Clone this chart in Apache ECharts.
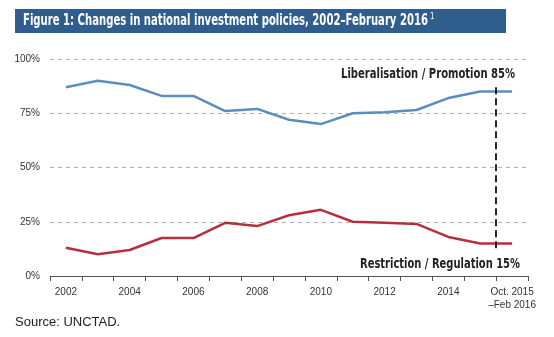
<!DOCTYPE html>
<html>
<head>
<meta charset="utf-8">
<script src="https://cdn.jsdelivr.net/npm/echarts@6/dist/echarts.min.js"></script>
<style>
html,body{margin:0;padding:0;background:#fff;}
#c{width:554px;height:337px;}
</style>
</head>
<body>
<div id="c"></div>
<script>
const categories = ['2002','2003','2004','2005','2006','2007','2008','2009','2010','2011','2012','2013','2014','2015','Oct. 2015\n\u2013Feb 2016'];
const liberalisation = [87, 90, 88, 83, 83, 76, 77, 72, 70, 75, 75.5, 76.5, 82, 85, 85];
const restriction = [13, 10, 12, 17.5, 17.5, 24.5, 23, 28, 30.5, 25, 24.5, 24, 18, 15, 15];
const yTicks = [0, 25, 50, 75, 100];
const cutoffBoundary = 14;      // boundary between 2015 and Oct.2015–Feb 2016 category
const cutoffRange = [87, 11];   // vertical extent of dashed marker in % units

const condensed = "'DejaVu Sans Condensed','Liberation Sans Narrow',sans-serif";
const plain = "'Liberation Sans',Arial,sans-serif";

const mctx = document.createElement('canvas').getContext('2d');
function fitScale(text, font, target) {
  mctx.font = font;
  const w = mctx.measureText(text).width;
  return Math.min(1, target / w);
}

// compressed text element: text drawn from (x,y) left-top, squeezed to width
function squeezed(text, font, x, y, width, fill) {
  return {
    type: 'text', x: x, y: y,
    scaleX: fitScale(text, font, width), originX: 0, originY: 0,
    style: {text: text, fill: fill, font: font, textVerticalAlign: 'top'}
  };
}

const titleText = 'Figure 1: Changes in national investment policies, 2002\u2013February 2016';
const libText = 'Liberalisation / Promotion 85%';
const resText = 'Restriction / Regulation 15%';
const titleFont = "bold 16px " + condensed;
const annFont = "bold 13.5px " + condensed;

const chart = echarts.init(document.getElementById('c'), null, {renderer:'canvas'});

chart.setOption({
  animation: false,
  backgroundColor: '#ffffff',
  grid: {left: 50, right: 26, top: 59, bottom: 61},
  xAxis: [{
    type: 'category',
    data: categories,
    boundaryGap: true,
    axisLine: {lineStyle: {color: '#555', width: 1.2}},
    axisTick: {show: true, inside: false, length: 5, lineStyle: {color: '#555'}, interval: 0},
    axisLabel: {interval: 1, margin: 10, color: '#333', fontSize: 10, fontFamily: plain, lineHeight: 13},
    splitLine: {show: false}
  }, {
    type: 'value',
    min: 0, max: categories.length,
    show: false
  }],
  yAxis: {
    type: 'value',
    min: yTicks[0], max: yTicks[yTicks.length-1], interval: 25,
    axisLine: {show: false},
    axisTick: {show: false},
    axisLabel: {formatter: '{value}%', margin: 10, color: '#333', fontSize: 10, fontFamily: plain},
    splitLine: {lineStyle: {color: '#b0b0b0', type: [4, 4], width: 1}}
  },
  series: [{
    name: 'Liberalisation / Promotion',
    type: 'line',
    data: liberalisation,
    symbol: 'none',
    lineStyle: {color: '#5b8dbd', width: 2.5},
    z: 3
  }, {
    name: 'Restriction / Regulation',
    type: 'line',
    data: restriction,
    symbol: 'none',
    lineStyle: {color: '#b5303e', width: 2.5},
    z: 3
  }, {
    type: 'line',
    xAxisIndex: 1,
    data: [],
    markLine: {
      silent: true,
      symbol: 'none',
      label: {show: false},
      lineStyle: {color: '#111', type: [7, 4], width: 1.8},
      data: [[{coord: [cutoffBoundary, cutoffRange[0]]}, {coord: [cutoffBoundary, cutoffRange[1]]}]]
    },
    z: 4
  }],
  graphic: [
    {type: 'rect', shape: {x: 15, y: 9, width: 491, height: 24}, style: {fill: '#2f5d8d'}},
    squeezed(titleText, titleFont, 23, 13, 405, '#ffffff'),
    {type: 'text', x: 430, y: 13, style: {text: '1', fill: '#fff', font: "8px " + condensed, textVerticalAlign: 'top'}},
    squeezed(libText, annFont, 341, 67, 174, '#222'),
    squeezed(resText, annFont, 360, 257, 160, '#222'),
    {type: 'text', x: 15, y: 316, style: {text: 'Source: UNCTAD.', fill: '#222', font: "13px " + plain, textVerticalAlign: 'top'}}
  ]
});
</script>
</body>
</html>
